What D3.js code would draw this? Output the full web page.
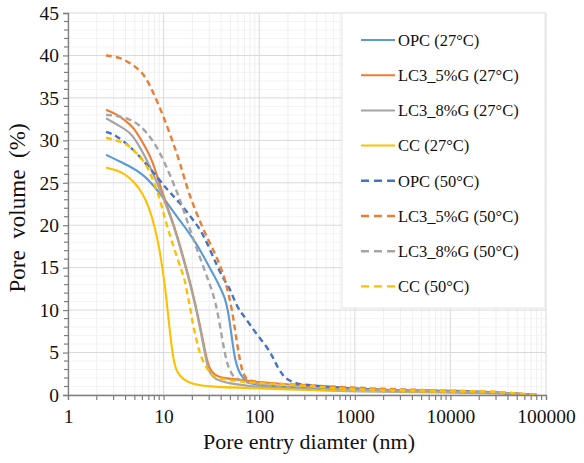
<!DOCTYPE html>
<html>
<head>
<meta charset="utf-8">
<script src="https://cdn.jsdelivr.net/npm/d3@7"></script>
<style>
  body { margin: 0; background: #fff; }
  svg { font-family: "Liberation Serif", "Times New Roman", serif; }
</style>
</head>
<body>
<div id="chart"></div>
<script>
// pore entry diameter (nm) and pore volume (%)
const opc27 = [[2.5,28.3],[3.2,27.7],[4.5,26.9],[6.1,26.0],[8.1,24.5],[10.3,23.0],[13.8,21.0],[18,19.3],[23,17.5],[28.4,15.6],[34,14.0],[39,12.7],[44,11.4],[47,10.0],[50,8.0],[53,5.9],[56,4.1],[61,2.8],[67,2.0],[80,1.4],[100,1.1],[300,0.8],[1000,0.6],[10000,0.4],[30000,0.3],[80000,0]]
const lc5_27 = [[2.5,33.6],[3.2,33.1],[4.0,32.3],[4.8,31.6],[6.1,29.7],[7.6,27.7],[8.8,25.3],[10.3,23.0],[12.3,20.6],[14,18.6],[16,16.3],[18,14.2],[20,12.2],[22,10.2],[24,8.2],[26,6.3],[28,4.4],[30,3.2],[33,2.5],[38,2.1],[50,1.9],[100,1.5],[300,1.1],[1000,0.7],[10000,0.4],[30000,0.3],[80000,0]]
const lc8_27 = [[2.5,32.6],[3.2,31.9],[4.5,31.0],[5.6,29.3],[7.2,27.0],[8.8,24.6],[10.3,22.8],[12.3,20.4],[14,18.4],[16,16.1],[18,14.0],[20,12.0],[22,10.0],[24,7.9],[26,5.9],[28,4.0],[30,2.6],[34,1.9],[45,1.4],[100,0.9],[300,0.6],[1000,0.4],[10000,0.3],[30000,0.2],[80000,0]]
const cc27 = [[2.5,26.8],[3.2,26.5],[4,26.0],[5,25.0],[6,23.8],[7,22.2],[8,20.0],[9,17.4],[9.9,14.3],[10.5,12.2],[11.1,9.6],[11.7,7.2],[12.3,5.2],[13,3.6],[13.8,2.7],[16,1.8],[20,1.3],[28,1.0],[80,0.8],[300,0.6],[1000,0.5],[10000,0.4],[30000,0.3],[80000,0]]
const opc50 = [[2.5,31.0],[3.2,30.6],[4.5,29.2],[6.1,27.7],[8.5,25.7],[11.1,24.1],[14.9,22.6],[19.8,20.8],[25,19.3],[30.6,17.1],[36,15.3],[42,13.7],[49,12.6],[53,11.6],[60,10.2],[67,9.5],[80,8.3],[95,7.1],[120,5.7],[140,4.4],[155,3.3],[175,2.4],[195,1.8],[250,1.3],[300,1.2],[1000,0.7],[3000,0.5],[10000,0.5],[20000,0.4],[40000,0.2],[80000,0]]
const lc5_50 = [[2.5,40.0],[3.5,39.8],[4.8,38.9],[6.1,37.9],[7.2,36.5],[8.7,34.4],[10.3,32.4],[12.5,29.8],[14.9,27.3],[18,24.0],[22.3,21.3],[27,19.1],[32,17.4],[36,16.2],[41,14.6],[44,13.5],[48,11.8],[52,10.0],[55,8.2],[58,6.4],[63,4.0],[68,2.4],[75,1.8],[100,1.4],[300,1.2],[1000,0.8],[10000,0.5],[30000,0.4],[80000,0]]
const lc8_50 = [[2.5,33.0],[3.2,32.9],[4.2,32.6],[5.6,31.9],[7.8,30.0],[9.9,27.8],[12.3,25.3],[14.9,23.0],[17.5,20.6],[21.3,17.8],[27,14.6],[31,12.8],[35,10.9],[38,8.8],[41,6.6],[44,4.8],[47,3.4],[52,2.4],[58,1.8],[100,1.1],[300,0.8],[1000,0.6],[10000,0.4],[30000,0.3],[80000,0]]
const cc50 = [[2.5,30.3],[3.2,30.0],[4.1,29.6],[4.8,28.9],[6.4,27.5],[7.8,25.3],[9.2,23.0],[10.3,20.8],[11.5,19.0],[13.1,17.0],[15.6,14.5],[16.7,13.5],[18,11.5],[18.9,10.4],[20.3,8.2],[22.3,6.3],[24,4.8],[27,3.5],[30,2.8],[34,2.1],[40,1.9],[60,1.6],[100,1.4],[300,1.1],[1000,0.6],[10000,0.5],[30000,0.4],[80000,0]]

const seriesNames = ['OPC (27°C)', 'LC3_5%G (27°C)', 'LC3_8%G (27°C)', 'CC (27°C)',
    'OPC (50°C)', 'LC3_5%G (50°C)', 'LC3_8%G (50°C)', 'CC (50°C)']
const seriesData = [opc27, lc5_27, lc8_27, cc27, opc50, lc5_50, lc8_50, cc50]
const seriesColors = ['#5b9bd5', '#ed7d31', '#a5a5a5', '#ffc000',
    '#4472c4', '#ed7d31', '#a5a5a5', '#ffc000']
const seriesDashed = [false, false, false, false, true, true, true, true]

const xTicks = [1, 10, 100, 1000, 10000, 100000]
const yTicks = [0, 5, 10, 15, 20, 25, 30, 35, 40, 45]

const w = 584
const h = 463
const m = { left: 68, right: 38, top: 13, bottom: 68 }

const svg = d3.select('#chart')
    .append('svg')
    .attr('width', w)
    .attr('height', h)

// log x scale, linear y scale
const xScale = d3.scaleLog()
    .domain([1, 100000])
    .range([m.left, w - m.right])
const yScale = d3.scaleLinear()
    .domain([0, 45])
    .range([h - m.bottom, m.top])

// minor ticks: 2..9 per decade, every 1 on y
const xMinor = []
for (let e = 0; e < 5; e++) {
    for (let k = 2; k <= 9; k++) xMinor.push(k * Math.pow(10, e))
}
const yMinor = d3.range(0, 46, 1).filter(v => v % 5 !== 0)

// grid
const grid = svg.append('g')
grid.selectAll('.xminor').data(xMinor).enter().append('line')
    .attr('x1', d => xScale(d)).attr('x2', d => xScale(d))
    .attr('y1', yScale(0)).attr('y2', yScale(45))
    .attr('stroke', '#efefef').attr('stroke-width', 1)
grid.selectAll('.yminor').data(yMinor).enter().append('line')
    .attr('x1', xScale(1)).attr('x2', xScale(100000))
    .attr('y1', d => yScale(d)).attr('y2', d => yScale(d))
    .attr('stroke', '#f3f3f3').attr('stroke-width', 1)
grid.selectAll('.xmajor').data(xTicks).enter().append('line')
    .attr('x1', d => xScale(d)).attr('x2', d => xScale(d))
    .attr('y1', yScale(0)).attr('y2', yScale(45))
    .attr('stroke', '#d9d9d9').attr('stroke-width', 1)
grid.selectAll('.ymajor').data(yTicks).enter().append('line')
    .attr('x1', xScale(1)).attr('x2', xScale(100000))
    .attr('y1', d => yScale(d)).attr('y2', d => yScale(d))
    .attr('stroke', '#d9d9d9').attr('stroke-width', 1)

// the curves, smoothed like the spreadsheet lines
const line = d3.line()
    .x(d => xScale(d[0]))
    .y(d => yScale(d[1]))
    .curve(d3.curveBasis)

const curves = svg.append('g')
seriesData.forEach((data, i) => {
    curves.append('path')
        .datum(data)
        .attr('fill', 'none')
        .attr('stroke', seriesColors[i])
        .attr('stroke-width', seriesDashed[i] ? 2.4 : 2.1)
        .attr('stroke-dasharray', seriesDashed[i] ? '6,4' : null)
        .attr('d', line)
})

// axes
const xAxis = d3.axisBottom(xScale)
    .tickValues(xTicks)
    .tickFormat(d3.format('d'))
    .tickSize(5)
    .tickPadding(9)
const gx = svg.append('g')
    .attr('id', 'x-axis')
    .attr('transform', 'translate(0,' + yScale(0) + ')')
    .call(xAxis)
gx.selectAll('.minor').data(xMinor).enter().append('line')
    .attr('x1', d => xScale(d)).attr('x2', d => xScale(d))
    .attr('y1', 0).attr('y2', 5)

const yAxis = d3.axisLeft(yScale)
    .tickValues(yTicks)
    .tickSize(5)
    .tickPadding(4)
const gy = svg.append('g')
    .attr('id', 'y-axis')
    .attr('transform', 'translate(' + xScale(1) + ',0)')
    .call(yAxis)
gy.selectAll('.minor').data(yMinor).enter().append('line')
    .attr('x1', -4).attr('x2', 0)
    .attr('y1', d => yScale(d)).attr('y2', d => yScale(d))

svg.selectAll('#x-axis path, #y-axis path').attr('stroke', '#7f7f7f').attr('stroke-width', 1.3)
svg.selectAll('#x-axis line, #y-axis line').attr('stroke', '#7f7f7f').attr('stroke-width', 1.2)
svg.selectAll('#x-axis text, #y-axis text')
    .attr('fill', '#111')
    .style('font-size', '19.5px')
    .style('font-family', '"Liberation Serif", serif')

// axis titles
svg.append('text')
    .attr('x', 309)
    .attr('y', 449)
    .attr('text-anchor', 'middle')
    .style('font-size', '22px')
    .attr('fill', '#111')
    .text('Pore entry diamter (nm)')

svg.append('text')
    .attr('transform', 'translate(25,208) rotate(-90)')
    .attr('text-anchor', 'middle')
    .style('font-size', '23px')
    .style('word-spacing', '6px')
    .attr('fill', '#111')
    .text('Pore volume (%)')

// legend
const legend = svg.append('g')
legend.append('rect')
    .attr('x', 342).attr('y', 13)
    .attr('width', 203).attr('height', 295)
    .attr('fill', '#fff')
    .attr('stroke', '#e6e6e6')

const rows = legend.selectAll('.row')
    .data(seriesNames)
    .enter()
    .append('g')
    .attr('transform', (d, i) => 'translate(0,' + (40 + i * 35.2) + ')')
rows.append('line')
    .attr('x1', 361).attr('x2', 395)
    .attr('y1', 0).attr('y2', 0)
    .attr('stroke', (d, i) => seriesColors[i])
    .attr('stroke-width', (d, i) => seriesDashed[i] ? 2.4 : 2)
    .attr('stroke-dasharray', (d, i) => seriesDashed[i] ? '8,5' : null)
rows.append('text')
    .attr('x', 398)
    .attr('dy', '0.35em')
    .style('font-size', '16.5px')
    .attr('fill', '#111')
    .text(d => d)
</script>
</body>
</html>
